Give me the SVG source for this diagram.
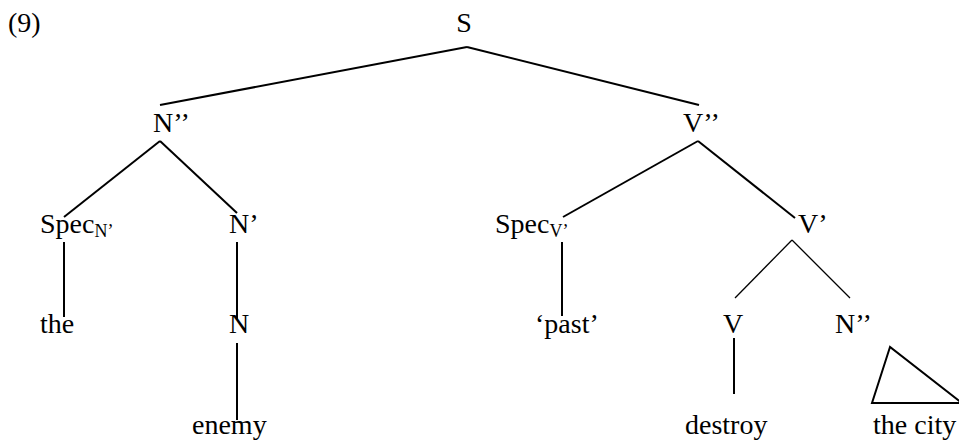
<svg xmlns="http://www.w3.org/2000/svg" width="959" height="441" viewBox="0 0 959 441">
  <style>
    text { font-family: "Liberation Serif", "Times New Roman", serif; font-size: 28px; fill: #000; }
    .sub { font-size: 18px; }
    .edge { stroke: #000; stroke-width: 2; fill: none; stroke-linecap: butt; }
    .thin { stroke-width: 1.3; }
  </style>
  <rect width="959" height="441" fill="#fff"/>

  <text id="label" x="8" y="32">(9)</text>

  <!-- tree branches -->
  <g id="connectors">
    <line class="edge" x1="467" y1="47" x2="160" y2="105"/>
    <line class="edge" x1="467" y1="47" x2="699" y2="105"/>
    <line class="edge" x1="160" y1="141" x2="64" y2="217"/>
    <line class="edge" x1="160" y1="141" x2="237" y2="213"/>
    <line class="edge" x1="64" y1="242" x2="64" y2="317"/>
    <line class="edge" x1="237" y1="242" x2="237" y2="320"/>
    <line class="edge" x1="237" y1="343" x2="237" y2="420"/>
    <line class="edge" x1="698" y1="141" x2="563" y2="217"/>
    <line class="edge" x1="698" y1="141" x2="795" y2="218"/>
    <line class="edge" x1="562" y1="242" x2="562" y2="316"/>
    <line class="edge thin" x1="792" y1="240" x2="735" y2="298"/>
    <line class="edge thin" x1="792" y1="240" x2="850" y2="298"/>
    <line class="edge" x1="734" y1="338" x2="734" y2="394"/>
    <polygon class="edge" points="890,347 872,403 962,403"/>
  </g>

  <g id="S"><text x="464" y="32" text-anchor="middle">S</text></g>
  <g id="NP"><text x="153" y="132">N’’</text></g>
  <g id="VP"><text x="683" y="132">V’’</text></g>
  <g id="SpecN"><text x="40" y="233">Spec<tspan class="sub" dy="4">N’</tspan></text></g>
  <g id="Nbar"><text x="229" y="233">N’</text></g>
  <g id="SpecV"><text x="495" y="233">Spec<tspan class="sub" dy="4">V’</tspan></text></g>
  <g id="Vbar"><text x="798" y="233">V’</text></g>
  <g id="the"><text x="40" y="333">the</text></g>
  <g id="N"><text x="229" y="333">N</text></g>
  <g id="past"><text x="535" y="333">‘past’</text></g>
  <g id="V"><text x="723" y="333">V</text></g>
  <g id="NP2"><text x="835" y="333">N’’</text></g>
  <g id="enemy"><text x="192" y="434">enemy</text></g>
  <g id="destroy"><text x="685" y="434">destroy</text></g>
  <g id="thecity"><text x="873" y="434">the city</text></g>
</svg>
